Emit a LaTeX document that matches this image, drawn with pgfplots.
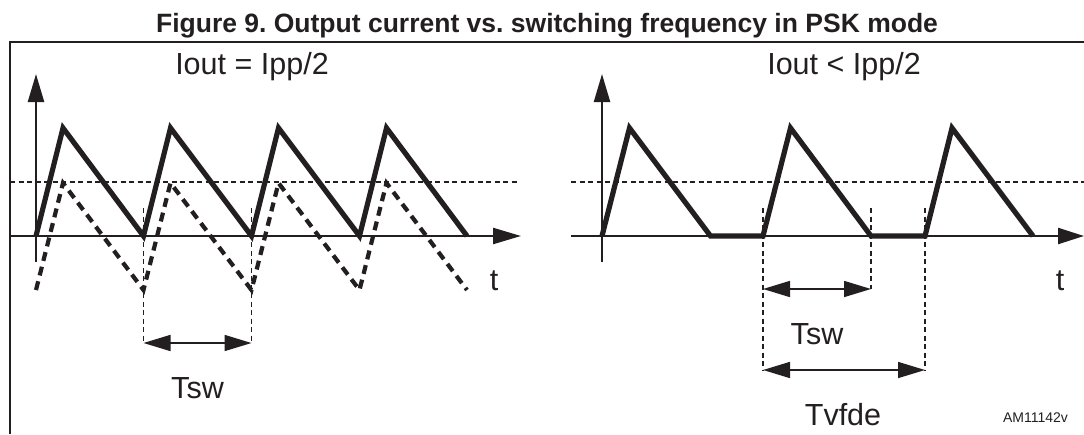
\documentclass[border=0pt]{standalone}
\usepackage{pgfplots}
\pgfplotsset{compat=1.18}
\usetikzlibrary{arrows.meta}
\usepackage{fontspec}
\setmainfont{Liberation Sans}
\definecolor{ink}{RGB}{35,31,32}
\frenchspacing
\begin{document}
\begin{tikzpicture}
\begin{axis}[
  name=ax,
  width=1084pt, height=434pt, scale only axis,
  xmin=0, xmax=1084, ymin=0, ymax=434, y dir=reverse,
  hide axis, clip=false,
  every axis plot/.append style={line join=miter, line cap=butt, mark=none, ink},
]
% frame (top and left)
\addplot[line width=2.2pt] coordinates {(10,434) (10,42) (1084,42)};
% dashed reference levels
\addplot[line width=1.3pt, dash pattern=on 5pt off 3.5pt] coordinates {(10,182) (517,182)};
\addplot[line width=1.3pt, dash pattern=on 5pt off 3.5pt] coordinates {(571,182) (1084,182)};
% axes
\addplot[line width=2.3pt, -{Triangle[length=28pt,width=16pt]}] coordinates {(36,262) (36,74)};
\addplot[line width=2.3pt, -{Triangle[length=28pt,width=16pt]}] coordinates {(10,236) (521,236)};
\addplot[line width=2.3pt, -{Triangle[length=28pt,width=16pt]}] coordinates {(602,262) (602,74)};
\addplot[line width=2.3pt, -{Triangle[length=26pt,width=16pt]}] coordinates {(571,236) (1084,236)};
% vertical dashed markers
\addplot[line width=1.2pt, dash pattern=on 5pt off 3.5pt] coordinates {(143.5,208) (143.5,343)};
\addplot[line width=1.2pt, dash pattern=on 5pt off 3.5pt] coordinates {(251.5,208) (251.5,343)};
\addplot[line width=1.2pt, dash pattern=on 5pt off 3.5pt] coordinates {(763,208) (763,370)};
\addplot[line width=1.2pt, dash pattern=on 5pt off 3.5pt] coordinates {(871,208) (871,289)};
\addplot[line width=1.2pt, dash pattern=on 5pt off 3.5pt] coordinates {(925,208) (925,370)};
% period arrows
\addplot[line width=1.6pt, {Triangle[length=27pt,width=16pt]}-{Triangle[length=27pt,width=16pt]}] coordinates {(143.5,343) (251.5,343)};
\addplot[line width=1.6pt, {Triangle[length=27pt,width=16pt]}-{Triangle[length=27pt,width=16pt]}] coordinates {(763,289) (871,289)};
\addplot[line width=1.6pt, {Triangle[length=27pt,width=16pt]}-{Triangle[length=27pt,width=16pt]}] coordinates {(763,370) (925,370)};
% left: dashed sawtooth
\addplot[line width=4.2pt, dash pattern=on 9pt off 6pt] coordinates {
(36,290) (63,183) (143.5,290) (170.5,183) (251.5,290) (278.5,183) (359.5,290) (386.5,183) (467,290)};
% left: solid sawtooth
\addplot[line width=5.2pt] coordinates {
(36,236) (63,128) (143.5,236) (170.5,128) (251.5,236) (278.5,128) (359.5,236) (386.5,128) (467,236)};
% right: solid waveform with idle intervals
\addplot[line width=5.2pt] coordinates {
(602,236) (629.5,128) (710.5,236) (763,236) (790.5,128) (871,236) (925,236) (952,128) (1033,236)};
% texts
\node[anchor=base, text=ink, font=\fontsize{26.5}{30}\selectfont\bfseries] at (axis cs:547,32) {Figure 9. Output current vs. switching frequency in PSK mode};
\node[anchor=base, text=ink, font=\fontsize{30.5}{34}\selectfont] at (axis cs:252,74) {Iout = Ipp/2};
\node[anchor=base, text=ink, font=\fontsize{30.5}{34}\selectfont] at (axis cs:844,74) {Iout < Ipp/2};
\node[anchor=base, text=ink, font=\fontsize{30.5}{34}\selectfont] at (axis cs:494,290) {t};
\node[anchor=base, text=ink, font=\fontsize{30.5}{34}\selectfont] at (axis cs:1060,290) {t};
\node[anchor=base, text=ink, font=\fontsize{30.5}{34}\selectfont] at (axis cs:197.5,398) {Tsw};
\node[anchor=base, text=ink, font=\fontsize{30.5}{34}\selectfont] at (axis cs:817,344) {Tsw};
\node[anchor=base, text=ink, font=\fontsize{30.5}{34}\selectfont] at (axis cs:843,425) {Tvfde};
\node[anchor=base, text=ink, font=\fontsize{14}{16}\selectfont] at (axis cs:1035.5,422) {AM11142v};
\end{axis}
\pgfresetboundingbox
\path (ax.south west) rectangle (ax.north east);
\end{tikzpicture}
\end{document}
